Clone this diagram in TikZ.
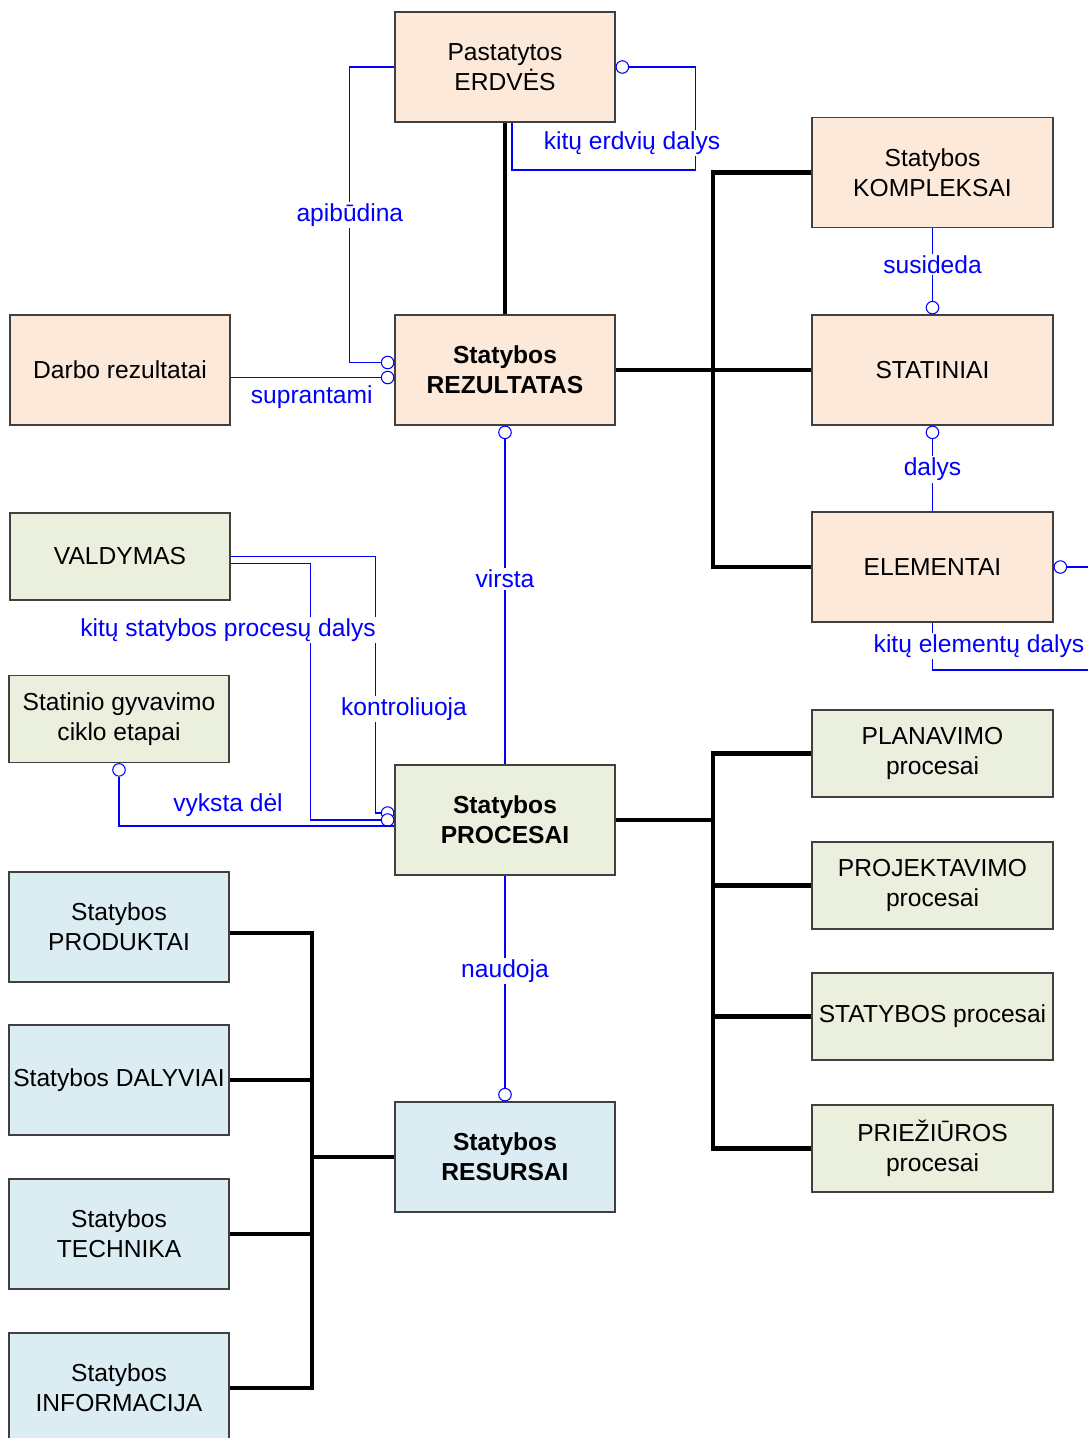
\documentclass[tikz,border=0pt]{standalone}
\usepackage{fontspec}
\setmainfont{Liberation Sans}
\usetikzlibrary{positioning,calc}

\definecolor{peach}{HTML}{FCE9DA}
\definecolor{sage}{HTML}{EBF0DE}
\definecolor{skyish}{HTML}{DBEDF3}
\definecolor{boxgray}{HTML}{404040}
\definecolor{linkblue}{HTML}{0000FF}

\begin{document}
\begin{tikzpicture}[x=0.02cm,y=-0.02cm,
    box/.style={draw=boxgray, line width=0.7pt, align=center, inner sep=1pt,
      minimum width=4.4cm, minimum height=2.2cm, font=\fontsize{14}{17}\selectfont},
    wide/.style={minimum width=4.82cm},
    flat/.style={minimum height=1.74cm},
    res/.style={box, fill=peach},
    proc/.style={box, fill=sage},
    rsc/.style={box, fill=skyish},
    bus/.style={line width=2.4pt},
    link/.style={draw=linkblue, line width=0.6pt},
    ring/.style={circle, draw=linkblue, fill=white, line width=0.6pt,
      minimum size=0.25cm, inner sep=0pt},
    lbl/.style={text=linkblue, fill=white, inner sep=1pt, font=\fontsize{14}{17}\selectfont}]
    \clip (0,0) rectangle (1088,1438);

    % Rezultatai
    \node[res] (erdves) at (505,67) {Pastatytos\\ERDVĖS};
    \node[res] (darbo) at (120,370) {Darbo rezultatai};
    \node[res] (rezultatas) at (505,370) {\textbf{Statybos}\\\textbf{REZULTATAS}};
    \node[res, wide] (kompleksai) at (932.5,172.5) {Statybos\\KOMPLEKSAI};
    \node[res, wide] (statiniai) at (932.5,370) {STATINIAI};
    \node[res, wide] (elementai) at (932.5,567) {ELEMENTAI};

    % Procesai
    \node[proc, flat] (valdymas) at (120,556.5) {VALDYMAS};
    \node[proc, flat] (etapai) at (119,719) {Statinio gyvavimo\\ciklo etapai};
    \node[proc] (procesai) at (505,820) {\textbf{Statybos}\\\textbf{PROCESAI}};
    \node[proc, wide, flat] (planavimo) at (932.5,753.5) {PLANAVIMO\\procesai};
    \node[proc, wide, flat] (projektavimo) at (932.5,885.5) {PROJEKTAVIMO\\procesai};
    \node[proc, wide, flat] (statybosp) at (932.5,1016.5) {STATYBOS procesai};
    \node[proc, wide, flat] (prieziuros) at (932.5,1148.5) {PRIEŽIŪROS\\procesai};

    % Resursai
    \node[rsc] (produktai) at (119,927) {Statybos\\PRODUKTAI};
    \node[rsc] (dalyviai) at (119,1080) {Statybos DALYVIAI};
    \node[rsc] (technika) at (119,1234) {Statybos\\TECHNIKA};
    \node[rsc] (informacija) at (119,1388) {Statybos\\INFORMACIJA};
    \node[rsc] (resursai) at (505,1157) {\textbf{Statybos}\\\textbf{RESURSAI}};

    % Busai
    \coordinate (rbus) at (713,370);
    \coordinate (pbus) at (713,820);
    \coordinate (sbus) at (312,1157);
    \draw[bus] (erdves.south) -- (rezultatas.north);
    \draw[bus] (rezultatas.east) -- (statiniai.west);
    \draw[bus] (kompleksai.west) -| (rbus) |- (elementai.west);
    \draw[bus] (procesai.east) -- (pbus);
    \draw[bus] (planavimo.west) -| (pbus) |- (prieziuros.west);
    \foreach \n in {projektavimo,statybosp}
        \draw[bus] (\n.west) -- (\n.west -| pbus);
    \draw[bus] (resursai.west) -- (sbus);
    \draw[bus] ($(produktai.east)+(0,6)$) -| (sbus) |- (informacija.east);
    \foreach \n in {dalyviai,technika}
        \draw[bus] (\n.east) -- (\n.east -| sbus);

    % Galai
    \node[ring, anchor=east] (a1) at ($(rezultatas.west)+(0,-7.5)$) {};
    \node[ring, anchor=east] (a2) at ($(rezultatas.west)+(0,7.5)$) {};
    \node[ring, anchor=west] (a3) at (erdves.east) {};
    \node[ring, anchor=north] (a4) at (rezultatas.south) {};
    \node[ring, anchor=south] (a5) at (statiniai.north) {};
    \node[ring, anchor=north] (a6) at (statiniai.south) {};
    \node[ring, anchor=west] (a7) at (elementai.east) {};
    \node[ring, anchor=east] (b1) at ($(procesai.west)+(0,-7)$) {};
    \node[ring, anchor=east] (b2) at (procesai.west) {};
    \node[ring, anchor=north] (b3) at (etapai.south) {};
    \node[ring, anchor=south] (c1) at (resursai.north) {};

    % Rysiai
    \draw[link] (erdves.west) -| ($(a1.west)+(-31,0)$) node[pos=.75, lbl] {apibūdina} -- (a1.west);
    \draw[link] (darbo.east |- a2) -- (a2.west) node[pos=.54, below=1pt, text=linkblue, font=\fontsize{14}{17}\selectfont] {suprantami};
    \draw[link] (a3.east) -| ++(66,103) -| ($(erdves.south)+(7,0)$);
    \draw[link] (a4.south) -- (procesai.north) node[pos=.43, lbl] {virsta};
    \draw[link] (kompleksai.south) -- (a5.north) node[midway, lbl] {susideda};
    \draw[link] (a6.south) -- (elementai.north) node[pos=.42, lbl] {dalys};
    \draw[link] (a7.east) -| ++(40,103) -| (elementai.south);
    \draw[link] (valdymas.east) -| ($(b1.west)+(-5,0)$) -- (b1.west);
    \draw[link] ($(valdymas.east)+(0,7)$) -| ($(b2.west)+(-70,0)$) -- (b2.west);
    \draw[link] (b3.south) |- ($(procesai.west)+(0,6)$);
    \draw[link] (procesai.south) -- (c1.north) node[pos=.45, lbl] {naudoja};

    \node[lbl] (lerdv) at (632,143) {kitų erdvių dalys};
    \node[lbl] (lelem) at (979,646) {kitų elementų dalys};
    \node[lbl] (lproc) at (228,630) {kitų statybos procesų dalys};
    \node[lbl] (lkontr) at (404,709) {kontroliuoja};
    \node[text=linkblue, font=\fontsize{14}{17}\selectfont] (lvyk) at (228,805) {vyksta dėl};
\end{tikzpicture}
\end{document}
